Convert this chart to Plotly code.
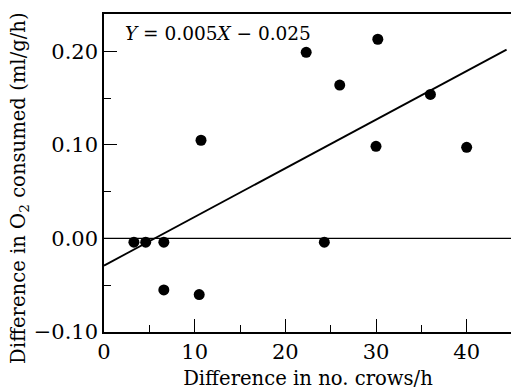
import plotly.graph_objects as go

# Data
crows_diff = [10.7, 22.3, 30.2, 26.0, 36.0, 30.0, 40.0, 3.3, 4.6, 6.6, 6.6, 10.5, 24.3]
o2_diff = [0.105, 0.199, 0.213, 0.164, 0.154, 0.0985, 0.0975, -0.004, -0.004, -0.004, -0.055, -0.060, -0.004]

fit_slope = 0.0052
fit_intercept = -0.029
fit_x = [0, 44.4]
fit_y = [fit_slope * x + fit_intercept for x in fit_x]

x_ticks = [0, 10, 20, 30, 40]
y_ticks = [-0.10, 0.00, 0.10, 0.20]

FONT = "DejaVu Serif"

fig = go.Figure()
fig.add_trace(go.Scatter(x=[0, 45], y=[0, 0], mode="lines",
                         line=dict(color="black", width=1.2), showlegend=False, hoverinfo="skip"))
fig.add_trace(go.Scatter(x=fit_x, y=fit_y, mode="lines",
                         line=dict(color="black", width=1.8), showlegend=False))
fig.add_trace(go.Scatter(x=crows_diff, y=o2_diff, mode="markers",
                         marker=dict(color="black", size=11), showlegend=False))

fig.add_annotation(x=0.047, y=0.94, xref="paper", yref="paper", xanchor="left", yanchor="middle",
                   text="<i>Y</i> = 0.005<i>X</i> \u2212 0.025", showarrow=False,
                   font=dict(family=FONT, size=18.5, color="black"))

# y-axis title as a rotated annotation (sits a bit lower than the plot centre)
fig.add_annotation(x=-0.206, y=0.453, xref="paper", yref="paper", xanchor="center", yanchor="middle",
                   textangle=-90, showarrow=False,
                   text="Difference in O<sub>2</sub> consumed (ml/g/h)",
                   font=dict(family=FONT, size=19.6, color="black"))

axis_common = dict(showline=True, linecolor="black", linewidth=1.5, mirror=True,
                   ticks="inside", ticklen=13, tickwidth=1.3, tickcolor="black",
                   showgrid=False, zeroline=False, automargin=False,
                   tickfont=dict(family=FONT, size=21, color="black"))

fig.update_xaxes(range=[0, 45], tickvals=x_ticks, ticktext=[str(v) for v in x_ticks],
                 minor=dict(ticks="inside", ticklen=7, dtick=5, tick0=0, tickcolor="black", tickwidth=1.3),
                 title=dict(text="Difference in no. crows/h", font=dict(family=FONT, size=19.6, color="black"), standoff=8),
                 **axis_common)
fig.update_yaxes(range=[-0.10, 0.24], tickvals=y_ticks,
                 ticktext=["\u22120.10", "0.00", "0.10", "0.20"],
                 minor=dict(ticks="inside", ticklen=7, dtick=0.05, tick0=0, tickcolor="black", tickwidth=1.3),
                 **axis_common)

# The page body adds an 8px offset, so the figure is sized to fill the rest of the window
fig.update_layout(width=511, height=383, margin=dict(l=96, r=7, t=6, b=59),
                  plot_bgcolor="white", paper_bgcolor="white")

fig.write_html("out.html")
